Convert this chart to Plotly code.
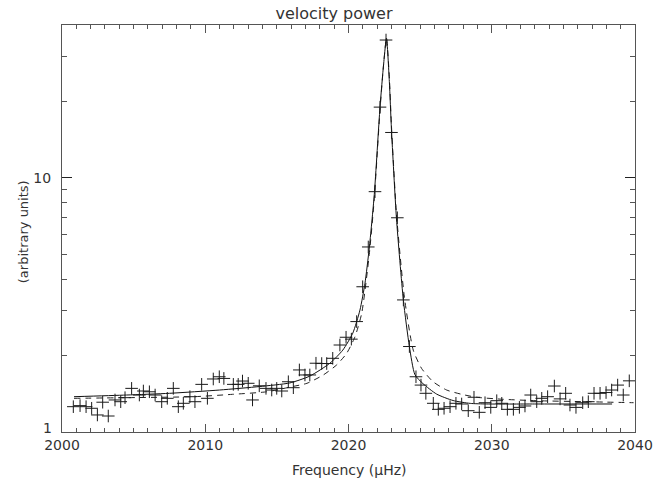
import plotly.graph_objects as go

# Observed power spectrum (crosses)
freq_obs = [2000.79, 2001.26, 2001.68, 2002.07, 2002.47, 2002.84, 2003.23, 2003.7, 2004.1, 2004.4,
            2004.86, 2005.4, 2005.68, 2006.1, 2006.5, 2006.96, 2007.35, 2007.77, 2008.12, 2008.47,
            2008.93, 2009.28, 2009.75, 2010.15, 2010.56, 2010.98, 2011.3, 2011.96, 2012.3, 2012.6,
            2013.0, 2013.3, 2013.77, 2014.24, 2014.64, 2014.99, 2015.34, 2015.8, 2016.15, 2016.57,
            2016.96, 2017.3, 2017.73, 2018.13, 2018.48, 2018.9, 2019.4, 2019.83, 2020.2, 2020.57,
            2020.99, 2021.38, 2021.85, 2022.2, 2022.62, 2023.0, 2023.41, 2023.83, 2024.25, 2024.71,
            2025.06, 2025.4, 2025.92, 2026.27, 2026.67, 2027.09, 2027.5, 2027.9, 2028.36, 2028.76,
            2029.13, 2029.53, 2029.93, 2030.35, 2030.7, 2031.09, 2031.51, 2031.93, 2032.32, 2032.72,
            2033.14, 2033.49, 2033.9, 2034.37, 2034.77, 2035.16, 2035.46, 2035.88, 2036.35, 2036.74,
            2037.14, 2037.56, 2037.98, 2038.37, 2038.79, 2039.18, 2039.6]
power_obs = [1.258, 1.27, 1.258, 1.24, 1.167, 1.31, 1.156, 1.337, 1.316, 1.365,
             1.485, 1.398, 1.45, 1.44, 1.398, 1.316, 1.357, 1.485, 1.258, 1.297,
             1.377, 1.316, 1.54, 1.357, 1.617, 1.65, 1.625, 1.54, 1.54, 1.587,
             1.555, 1.337, 1.52, 1.485, 1.463, 1.485, 1.45, 1.577, 1.494, 1.755,
             1.677, 1.677, 1.865, 1.86, 1.86, 1.95, 2.2, 2.36, 2.32, 2.72,
             3.73, 5.35, 8.83, 19.0, 34.9, 15.1, 6.97, 3.31, 2.17, 1.65,
             1.53, 1.42, 1.297, 1.228, 1.24, 1.258, 1.297, 1.289, 1.213, 1.37,
             1.195, 1.304, 1.25, 1.328, 1.297, 1.228, 1.228, 1.25, 1.266, 1.398,
             1.316, 1.357, 1.377, 1.517, 1.35, 1.42, 1.277, 1.25, 1.304, 1.316,
             1.42, 1.42, 1.43, 1.463, 1.53, 1.398, 1.59]

# Solid fitted profile
freq_fit = [2000.84, 2004.5, 2007.5, 2011.0, 2013.8, 2015.9, 2017.3, 2018.7, 2019.6, 2020.3,
            2020.8, 2021.15, 2021.45, 2021.8, 2022.2, 2022.45, 2022.65, 2022.85, 2023.0, 2023.35,
            2023.83, 2024.25, 2024.64, 2025.2, 2026.15, 2027.3, 2028.5, 2029.65, 2033.0, 2038.4]
power_fit = [1.377, 1.398, 1.42, 1.463, 1.51, 1.56, 1.66, 1.865, 2.10, 2.45,
             3.02, 3.85, 5.3, 8.6, 19.0, 28.0, 35.5, 24.0, 15.5, 6.9,
             3.31, 2.17, 1.68, 1.55, 1.41, 1.33, 1.296, 1.289, 1.289, 1.289]

# Dashed comparison profile
freq_alt = [2000.84, 2004.5, 2009.2, 2011.9, 2014.3, 2016.1, 2017.1, 2018.24, 2019.17, 2019.87,
            2020.45, 2020.92, 2021.45, 2021.8, 2022.2, 2022.45, 2022.65, 2022.85, 2023.0, 2023.35,
            2023.9, 2024.52, 2025.1, 2025.9, 2026.85, 2027.9, 2028.95, 2030.8, 2033.1, 2036.6, 2039.9]
power_alt = [1.357, 1.365, 1.377, 1.407, 1.44, 1.51, 1.555, 1.677, 1.836, 2.04,
             2.37, 2.93, 5.0, 8.3, 18.5, 28.0, 35.5, 25.0, 16.0, 7.2,
             3.4, 2.10, 1.78, 1.578, 1.463, 1.407, 1.37, 1.345, 1.328, 1.316, 1.304]

x_major = [2000, 2010, 2020, 2030, 2040]
y_major = [1, 10]
y_major_text = ["", "10"]
y_minor = [2, 3, 4, 5, 6, 7, 8, 9, 20, 30]

FONT = "DejaVu Sans"
AX = "#555555"
TXT = "#333333"

fig = go.Figure()
fig.add_trace(go.Scatter(x=freq_alt, y=power_alt, mode="lines",
                         line=dict(color="#222222", width=1, dash="6px,5px", shape="spline", smoothing=0.6),
                         showlegend=False, hoverinfo="skip"))
fig.add_trace(go.Scatter(x=freq_fit, y=power_fit, mode="lines",
                         line=dict(color="#111111", width=1, shape="spline", smoothing=0.6),
                         showlegend=False, hoverinfo="skip"))
fig.add_trace(go.Scatter(x=freq_obs, y=power_obs, mode="markers",
                         marker=dict(symbol="cross-thin", size=9, line=dict(color="#1a1a1a", width=1)),
                         showlegend=False))

fig.update_layout(
    width=668, height=478,
    margin=dict(l=62, r=33, t=25, b=46),
    paper_bgcolor="white", plot_bgcolor="white",
    font=dict(family=FONT, size=14, color=TXT),
    title=dict(text="velocity power", x=0.5, xanchor="center", y=1 - 13 / 478, yanchor="middle",
               font=dict(family=FONT, size=16, color=TXT)),
    xaxis=dict(range=[2000, 2040], tickmode="array", tickvals=x_major,
               ticks="inside", ticklen=8, tickwidth=1, tickcolor=AX,
               showline=True, linecolor=AX, linewidth=1, mirror="ticks",
               showgrid=False, zeroline=False,
               minor=dict(dtick=1, tick0=2000, ticks="inside", ticklen=4, tickcolor=AX, tickwidth=1, showgrid=False),
               tickfont=dict(family=FONT, size=14, color=TXT)),
    yaxis=dict(type="log", range=[0, 1.602], tickmode="array", tickvals=y_major, ticktext=y_major_text,
               ticks="inside", ticklen=10, tickwidth=1, tickcolor="#222222",
               showline=True, linecolor=AX, linewidth=1, mirror="ticks",
               showgrid=False, zeroline=False, ticklabelstandoff=7,
               minor=dict(tickmode="array", tickvals=y_minor, ticks="inside", ticklen=5, tickcolor=AX, tickwidth=1, showgrid=False),
               tickfont=dict(family=FONT, size=14, color=TXT)),
    annotations=[
        dict(text="1", xref="paper", yref="y", x=0, y=0, xanchor="right", yanchor="middle",
             xshift=-8, yshift=4, showarrow=False, font=dict(family=FONT, size=14, color=TXT)),
        dict(text="Frequency (\u03bcHz)", xref="paper", yref="paper", x=0.5, y=-0.068,
             xanchor="center", yanchor="top", showarrow=False,
             font=dict(family=FONT, size=14, color=TXT)),
        dict(text="(arbitrary units)", xref="paper", yref="paper", x=-0.068, y=0.491,
             xanchor="center", yanchor="middle", textangle=-90, showarrow=False,
             font=dict(family=FONT, size=13, color=TXT)),
    ],
)

fig.write_html("out.html")
